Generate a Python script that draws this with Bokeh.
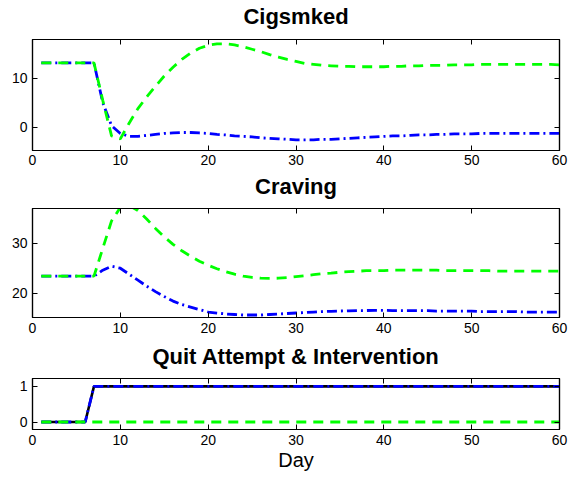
from bokeh.plotting import figure
from bokeh.layouts import column
from bokeh.models import Range1d, LinearAxis, FixedTicker
from bokeh.embed import file_html
from bokeh.resources import INLINE

days = list(range(1, 61))

cig_blue = [13.2, 13.2, 13.2, 13.2, 13.2, 13.2, 13.2, 5.0, 0.3, -1.3,
            -1.9, -1.9, -1.7, -1.5, -1.3, -1.2, -1.1, -1.1, -1.2, -1.3,
            -1.5, -1.6, -1.8, -1.9, -2.0, -2.2, -2.3, -2.4, -2.5, -2.6,
            -2.6, -2.6, -2.5, -2.5, -2.4, -2.3, -2.2, -2.1, -2.0, -1.9,
            -1.8, -1.8, -1.7, -1.6, -1.6, -1.5, -1.5, -1.4, -1.4, -1.4,
            -1.3, -1.3, -1.3, -1.3, -1.3, -1.3, -1.3, -1.3, -1.3, -1.3]
cig_green = [13.2, 13.2, 13.2, 13.2, 13.2, 13.2, 13.2, 5.5, -1.8, -2.4,
             0.8, 3.8, 6.2, 8.4, 10.5, 12.3, 13.9, 15.2, 16.2, 16.8,
             17.1, 17.1, 16.9, 16.5, 16.0, 15.5, 14.9, 14.4, 13.9, 13.5,
             13.1, 12.9, 12.7, 12.6, 12.5, 12.5, 12.4, 12.4, 12.4, 12.4,
             12.5, 12.5, 12.6, 12.6, 12.7, 12.7, 12.7, 12.8, 12.8, 12.8,
             12.9, 12.9, 12.9, 12.9, 12.9, 12.9, 12.9, 12.9, 12.9, 12.8]

crav_blue = [23.4, 23.4, 23.4, 23.4, 23.4, 23.4, 23.4, 24.6, 25.4, 25.0,
             23.8, 22.6, 21.4, 20.3, 19.3, 18.4, 17.7, 17.2, 16.7, 16.2,
             16.0, 15.8, 15.7, 15.6, 15.6, 15.6, 15.7, 15.8, 15.9, 16.0,
             16.1, 16.2, 16.3, 16.35, 16.4, 16.45, 16.5, 16.5, 16.55, 16.55,
             16.5, 16.5, 16.5, 16.5, 16.5, 16.4, 16.4, 16.4, 16.4, 16.4,
             16.3, 16.3, 16.3, 16.3, 16.3, 16.2, 16.2, 16.2, 16.2, 16.2]
crav_green = [23.4, 23.4, 23.4, 23.4, 23.4, 23.4, 23.4, 29.0, 34.5, 37.2,
              37.6, 36.6, 34.9, 33.0, 31.3, 29.8, 28.5, 27.4, 26.4, 25.6,
              24.9, 24.3, 23.8, 23.4, 23.15, 23.0, 22.95, 23.0, 23.1, 23.3,
              23.5, 23.7, 23.9, 24.0, 24.2, 24.3, 24.4, 24.5, 24.5, 24.5,
              24.6, 24.6, 24.6, 24.6, 24.6, 24.6, 24.5, 24.5, 24.5, 24.5,
              24.5, 24.5, 24.4, 24.4, 24.4, 24.4, 24.4, 24.4, 24.4, 24.4]

quit_black = [0] * 6 + [1] * 54
quit_blue = [0] * 6 + [1] * 54
quit_green = [0] * 60

x_ticks = [0, 10, 20, 30, 40, 50, 60]
FONT = "Liberation Sans"
GREEN = "#00FF00"
BLUE = "#0000FF"


def style_axis(ax, ticks, show_labels=True, standoff=5):
    ax.ticker = FixedTicker(ticks=ticks)
    ax.major_tick_in = 5
    ax.major_tick_out = 0
    ax.minor_tick_line_color = None
    ax.axis_line_color = "black"
    ax.axis_line_width = 1.2
    ax.major_tick_line_color = "black"
    ax.major_tick_line_width = 1
    ax.major_label_text_font = FONT
    if show_labels:
        ax.major_label_text_color = "black"
        ax.major_label_text_font_size = "14px"
        ax.major_label_standoff = standoff
    else:
        ax.major_label_text_color = None
        ax.major_label_text_font_size = "1px"
        ax.major_label_standoff = 0


def make(title, h, top, bottom, yr, yticks, title_gap, x_standoff=5):
    p = figure(width=570, height=h, output_backend="svg", toolbar_location=None,
               x_range=Range1d(0, 60), y_range=Range1d(*yr),
               min_border_left=32, min_border_right=11,
               min_border_top=top, min_border_bottom=bottom)
    p.xgrid.visible = False
    p.ygrid.visible = False
    p.outline_line_color = "black"
    p.outline_line_width = 1.2
    bottom_ax = p.below[0]
    style_axis(bottom_ax, x_ticks, standoff=x_standoff)
    style_axis(p.left[0], yticks)
    # top axis: inward ticks plus the panel title
    top_ax = LinearAxis()
    style_axis(top_ax, x_ticks, show_labels=False)
    top_ax.axis_label = title
    top_ax.axis_label_text_font = FONT
    top_ax.axis_label_text_font_size = "22px"
    top_ax.axis_label_text_font_style = "bold"
    top_ax.axis_label_text_color = "black"
    top_ax.axis_label_standoff = title_gap
    p.add_layout(top_ax, "above")
    right_ax = LinearAxis()
    style_axis(right_ax, yticks, show_labels=False)
    p.add_layout(right_ax, "right")
    return p, bottom_ax


p1, _ = make("Cigsmked", 170, 38, 20, (-4.8, 18.0), [0, 10], 11, x_standoff=4)
p1.line(days, cig_blue, line_color=BLUE, line_width=2.8, line_dash="10 4 2 4")
p1.line(days, cig_green, line_color=GREEN, line_width=2.8, line_dash="10 7")

p2, _ = make("Craving", 170, 35, 23, (15.1, 37.0), [20, 30], 10)
p2.line(days, crav_blue, line_color=BLUE, line_width=2.8, line_dash="10 4 2 4")
p2.line(days, crav_green, line_color=GREEN, line_width=2.8, line_dash="10 7")

p3, ax3 = make("Quit Attempt & Intervention", 137, 35, 48, (-0.21, 1.22), [0, 1], 10)
ax3.axis_label = "Day"
ax3.axis_label_text_font = FONT
ax3.axis_label_text_font_size = "20px"
ax3.axis_label_text_font_style = "normal"
ax3.axis_label_text_color = "black"
ax3.axis_label_standoff = 1
p3.line(days, quit_black, line_color="black", line_width=2.6)
p3.line(days, quit_blue, line_color=BLUE, line_width=2.8, line_dash="10 4 2 4")
p3.line(days, quit_green, line_color=GREEN, line_width=2.8, line_dash="10 7")

layout = column(p1, p2, p3, spacing=0)
open("out.html", "w").write(file_html(layout, INLINE))
